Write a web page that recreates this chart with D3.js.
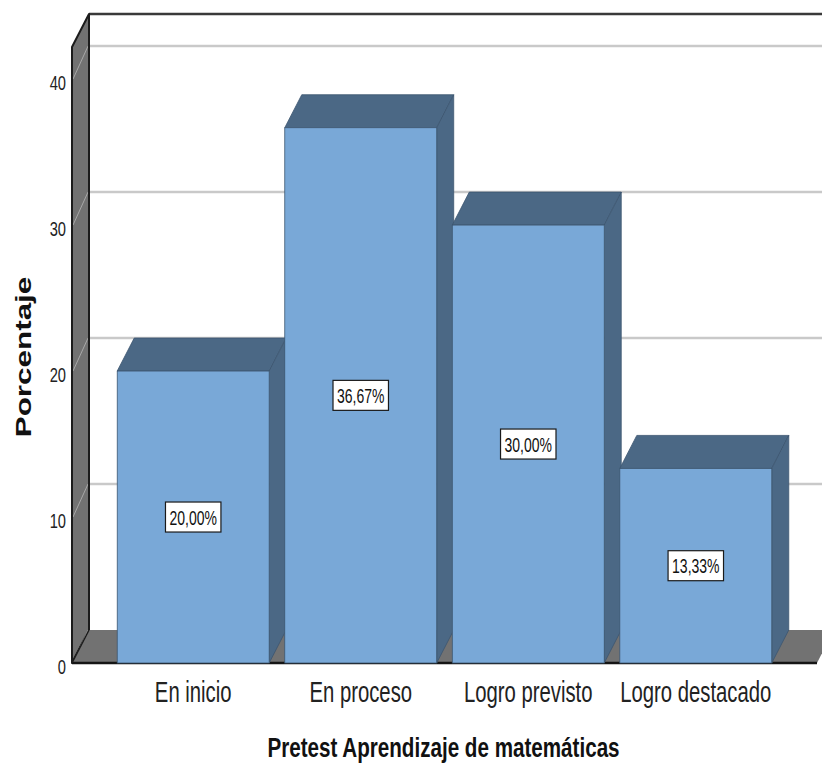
<!DOCTYPE html>
<html>
<head>
<meta charset="utf-8">
<script src="https://cdn.jsdelivr.net/npm/d3@7/dist/d3.min.js"></script>
<style>
  html, body { margin: 0; padding: 0; background: #ffffff; }
  svg { display: block; font-family: "Liberation Sans", Arial, sans-serif; }
</style>
</head>
<body>
<div id="chart"></div>
<script>
// Pretest results: share of students per achievement level
const categories = ["En inicio", "En proceso", "Logro previsto", "Logro destacado"];
const percentages = [20.00, 36.67, 30.00, 13.33];
const yTicks = [0, 10, 20, 30, 40];
const yMax = 42.2;
const xTitle = "Pretest Aprendizaje de matemáticas";
const yTitle = "Porcentaje";

const W = 822, H = 765;
const plot = { left: 72, right: 817, bottom: 663, top: 47 };
const depth = { dx: 17, dy: -33 };      // offset of the back plane
const squeeze = 0.7;                     // narrow lettering used throughout

const colors = {
  front: "#79a8d7",
  shade: "#4b6885",
  edge: "#3c5670",
  wall: "#727272",
  grid: "#c9c9c9"
};

const svg = d3.select("#chart").append("svg")
  .attr("width", W).attr("height", H);

const y = d3.scaleLinear().domain([0, yMax]).range([plot.bottom, plot.top]);
const x = d3.scaleBand().domain(categories)
  .range([plot.left, plot.right])
  .paddingInner(0.093).paddingOuter(0.27);

const poly = pts => "M" + pts.map(p => p.join(",")).join("L") + "Z";
const fmtPct = v => d3.format(".2f")(v).replace(".", ",") + "%";

// back wall gridlines
svg.append("g").selectAll("line").data(yTicks.filter(t => t > 0)).join("line")
  .attr("x1", plot.left + depth.dx).attr("x2", W)
  .attr("y1", d => y(d) + depth.dy).attr("y2", d => y(d) + depth.dy)
  .attr("stroke", colors.grid).attr("stroke-width", 2.5);

// top border of the back wall
svg.append("line")
  .attr("x1", plot.left + depth.dx).attr("x2", W)
  .attr("y1", y(yMax) + depth.dy).attr("y2", y(yMax) + depth.dy)
  .attr("stroke", "#3a3a3a").attr("stroke-width", 2.5);

// left side wall
svg.append("path")
  .attr("d", poly([
    [plot.left, y(0)], [plot.left, y(yMax)],
    [plot.left + depth.dx, y(yMax) + depth.dy], [plot.left + depth.dx, y(0) + depth.dy]
  ]))
  .attr("fill", colors.wall).attr("stroke", "#1c1c1c").attr("stroke-width", 2)
  .attr("stroke-linejoin", "round");

// diagonal gridlines across the side wall
svg.append("g").selectAll("line").data(yTicks).join("line")
  .attr("x1", plot.left + 1).attr("x2", plot.left + depth.dx - 1)
  .attr("y1", d => y(d)).attr("y2", d => y(d) + depth.dy)
  .attr("stroke", "#a8a8a8").attr("stroke-width", 1);

// floor
svg.append("path")
  .attr("d", poly([
    [plot.left, y(0)], [plot.right, y(0)],
    [plot.right + depth.dx, y(0) + depth.dy], [plot.left + depth.dx, y(0) + depth.dy]
  ]))
  .attr("fill", colors.wall);
svg.append("line")
  .attr("x1", plot.left).attr("x2", plot.right)
  .attr("y1", y(0)).attr("y2", y(0))
  .attr("stroke", "#151515").attr("stroke-width", 2.5);
svg.append("line")
  .attr("x1", plot.left + depth.dx).attr("x2", plot.left + depth.dx)
  .attr("y1", y(yMax) + depth.dy).attr("y2", y(0) + depth.dy)
  .attr("stroke", "#1c1c1c").attr("stroke-width", 2);
svg.append("line")
  .attr("x1", plot.left).attr("x2", plot.left + depth.dx)
  .attr("y1", y(0)).attr("y2", y(0) + depth.dy)
  .attr("stroke", "#1c1c1c").attr("stroke-width", 1.5);
svg.append("line")
  .attr("x1", plot.left).attr("x2", plot.left)
  .attr("y1", y(yMax)).attr("y2", y(0))
  .attr("stroke", "#1c1c1c").attr("stroke-width", 2);

// 3D bars
const bars = svg.append("g").selectAll("g")
  .data(categories.map((c, i) => ({ c, v: percentages[i] })))
  .join("g");

bars.each(function (d) {
  const g = d3.select(this);
  const x0 = x(d.c), x1 = x(d.c) + x.bandwidth();
  const yt = y(d.v), yb = y(0);
  g.append("path")
    .attr("d", poly([[x0, yt], [x1, yt], [x1 + depth.dx, yt + depth.dy], [x0 + depth.dx, yt + depth.dy]]))
    .attr("fill", colors.shade).attr("stroke", colors.edge).attr("stroke-width", 0.8);
  g.append("path")
    .attr("d", poly([[x1, yt], [x1 + depth.dx, yt + depth.dy], [x1 + depth.dx, yb + depth.dy], [x1, yb]]))
    .attr("fill", colors.shade).attr("stroke", colors.edge).attr("stroke-width", 0.8);
  g.append("rect")
    .attr("x", x0).attr("y", yt).attr("width", x1 - x0).attr("height", yb - yt)
    .attr("fill", colors.front).attr("stroke", colors.edge).attr("stroke-width", 0.8);
});

// value labels in boxes at half height
bars.each(function (d) {
  const g = d3.select(this).append("g")
    .attr("transform", `translate(${x(d.c) + x.bandwidth() / 2},${y(d.v / 2)})`);
  const box = g.append("rect").attr("fill", "#ffffff").attr("stroke", "#1a1a1a").attr("stroke-width", 1.2);
  const t = g.append("text")
    .attr("transform", `scale(${squeeze},1)`)
    .attr("text-anchor", "middle").attr("y", 7.5)
    .attr("font-size", 20).attr("fill", "#111")
    .text(fmtPct(d.v));
  const w = t.node().getComputedTextLength() * squeeze + 8;
  box.attr("x", -w / 2).attr("y", -15).attr("width", w).attr("height", 30);
});

// y tick labels
svg.append("g").selectAll("g").data(yTicks).join("g")
  .attr("transform", d => `translate(66,${y(d) + 10.5})`)
  .append("text")
  .attr("transform", `scale(${squeeze},1)`)
  .attr("text-anchor", "end").attr("font-size", 21).attr("fill", "#222")
  .text(d => d);

// category labels
svg.append("g").selectAll("g").data(categories).join("g")
  .attr("transform", d => `translate(${x(d) + x.bandwidth() / 2},702)`)
  .append("text")
  .attr("transform", `scale(${squeeze},1)`)
  .attr("text-anchor", "middle").attr("font-size", 29).attr("fill", "#222")
  .text(d => d);

// axis titles
svg.append("g").attr("transform", `translate(${(plot.left + plot.right) / 2 - 1},757)`)
  .append("text")
  .attr("transform", "scale(0.75,1)")
  .attr("text-anchor", "middle").attr("font-size", 27.5).attr("font-weight", "bold").attr("fill", "#111")
  .text(xTitle);

svg.append("g").attr("transform", "translate(31,357) rotate(-90)")
  .append("text")
  .attr("transform", `scale(${1 / squeeze},1)`)
  .attr("text-anchor", "middle").attr("font-size", 22).attr("font-weight", "bold").attr("fill", "#111")
  .text(yTitle);
</script>
</body>
</html>
